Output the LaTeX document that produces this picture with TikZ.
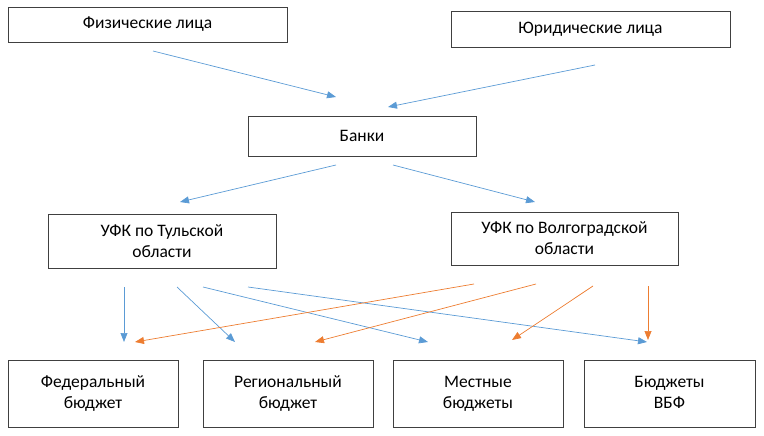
\documentclass[tikz,border=0pt]{standalone}
\usepackage{fontspec}
\setmainfont{Carlito}
\usepackage{tikz}
\usepackage{xcolor}
\usetikzlibrary{arrows.meta}
\definecolor{arblue}{RGB}{91,155,213}
\definecolor{arorange}{RGB}{237,125,49}
\newcommand{\budgettext}[2]{\raisebox{4pt}{\begin{tabular}{@{}c@{}}#1\\#2\end{tabular}}}

\begin{document}
\begin{tikzpicture}[x=1pt,y=-1pt,
    box/.style={shape=rectangle, draw=black!75, line width=0.8pt, inner sep=0pt, align=center,
      font=\fontsize{17.5}{21}\selectfont},
    budget/.style={box, minimum width=170, minimum height=67},
    blu/.style={draw=arblue, line width=0.7pt, -{Triangle[length=9pt,width=7pt]}},
    orng/.style={draw=arorange, line width=0.7pt, -{Triangle[length=9pt,width=7pt]}}]
    \useasboundingbox (0,0) rectangle (764,436);

    \node[box, minimum width=279, minimum height=35] (fiz) at (147.5,24.5) {Физические лица};
    \node[box, minimum width=279, minimum height=36] (jur) at (590.5,29) {Юридические лица};
    \node[box, minimum width=228, minimum height=40] (banki) at (362,136) {Банки};
    \node[box, minimum width=228, minimum height=54] (tula) at (162,241) {УФК по Тульской\\области};
    \node[box, minimum width=227, minimum height=53] (volg) at (564.5,238.5) {УФК по Волгоградской\\области};

    \node[budget] (fed) at (93,393.5) {\budgettext{Федеральный}{бюджет}};
    \node[budget] (reg) at (288,393.5) {\budgettext{Региональный}{бюджет}};
    \node[budget] (mest) at (478,393.5) {\budgettext{Местные}{бюджеты}};
    \node[budget, minimum width=171] (vbf) at (669.5,393.5) {\budgettext{Бюджеты}{ВБФ}};

    % free ends of the arrows
    \coordinate (fizout) at (153,51);   \coordinate (bankiinl) at (336,97);
    \coordinate (jurout) at (595,65);   \coordinate (bankiinr) at (388,107);
    \coordinate (bankioutl) at (336,165); \coordinate (tulain) at (180,202);
    \coordinate (bankioutr) at (393,165); \coordinate (volgin) at (535,202);

    \draw[blu] (fizout) -- (bankiinl);
    \draw[blu] (jurout) -- (bankiinr);
    \draw[blu] (bankioutl) -- (tulain);
    \draw[blu] (bankioutr) -- (volgin);

    % Tula -> budgets
    \coordinate (t1) at (124,287); \coordinate (fedl) at (124,342);
    \coordinate (t2) at (177,287); \coordinate (regl) at (235,342);
    \coordinate (t3) at (203,287); \coordinate (mestl) at (428,342);
    \coordinate (t4) at (248,287); \coordinate (vbfl) at (647,342);
    \draw[blu] (t1) -- (fedl);
    \draw[blu] (t2) -- (regl);
    \draw[blu] (t3) -- (mestl);
    \draw[blu] (t4) -- (vbfl);

    % Volgograd -> budgets
    \coordinate (v1) at (474,284); \coordinate (fedr) at (135,342);
    \coordinate (v2) at (536,284); \coordinate (regr) at (315,342);
    \coordinate (v3) at (593,286); \coordinate (mestr) at (512,340);
    \coordinate (v4) at (648,286); \coordinate (vbfr) at (648,340);
    \draw[orng] (v1) -- (fedr);
    \draw[orng] (v2) -- (regr);
    \draw[orng] (v3) -- (mestr);
    \draw[orng] (v4) -- (vbfr);
\end{tikzpicture}
\end{document}
